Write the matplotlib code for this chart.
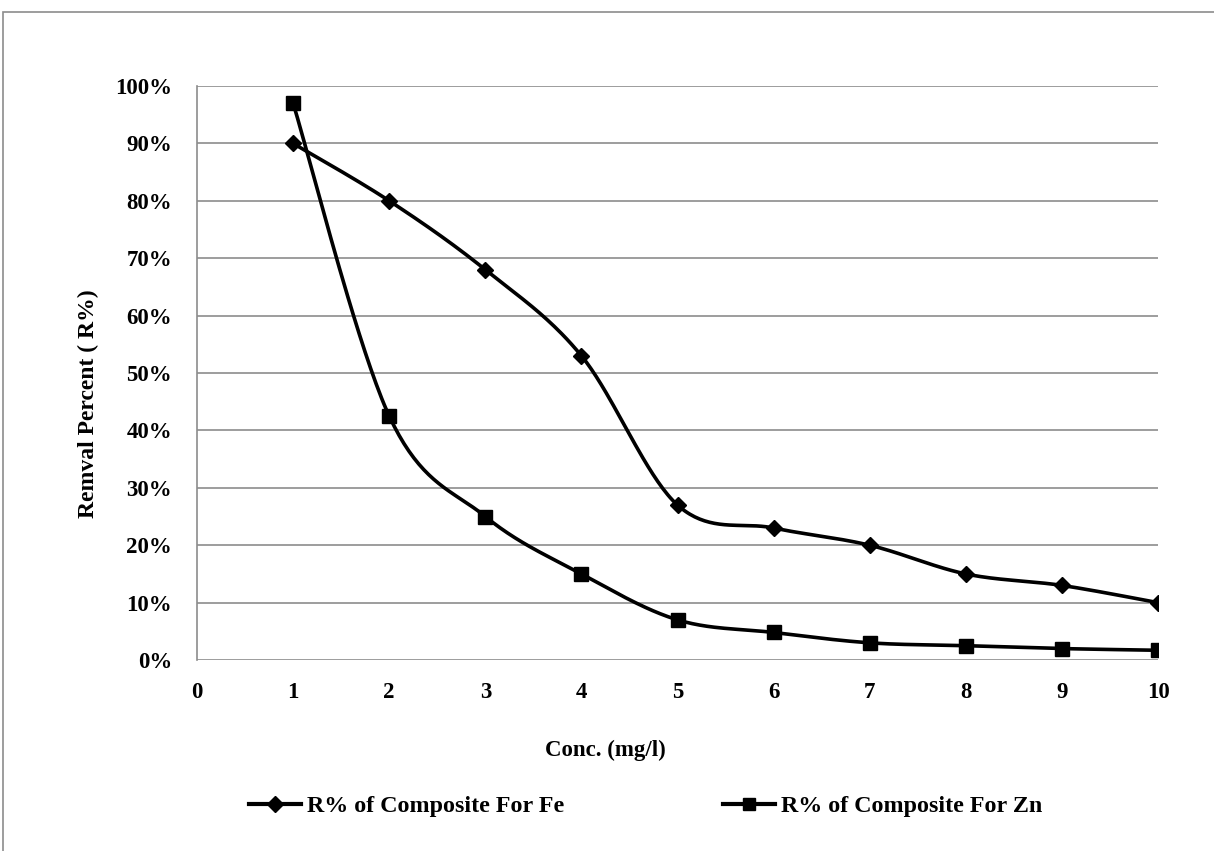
import numpy as np
import matplotlib
matplotlib.use("Agg")
from matplotlib import pyplot as plt
from matplotlib.patches import Rectangle
from matplotlib.ticker import FuncFormatter

conc = [1, 2, 3, 4, 5, 6, 7, 8, 9, 10]
fe_removal = [90, 80, 68, 53, 27, 23, 20, 15, 13, 10]
zn_removal = [97, 42.5, 25, 15, 7, 4.8, 3, 2.5, 2, 1.7]
fe_label = "R% of Composite For Fe"
zn_label = "R% of Composite For Zn"


# smoothed line through the points (cardinal spline drawn as cubic beziers)
def smooth(xs, ys, steps=40):
    p = np.column_stack([xs, ys]).astype(float)
    p = np.vstack([p[0], p, p[-1]])
    out = []
    t = np.linspace(0, 1, steps)[:, None]
    for i in range(1, len(p) - 2):
        a = p[i]
        d = p[i + 1]
        b = a + (p[i + 1] - p[i - 1]) / 6
        c = d - (p[i + 2] - p[i]) / 6
        seg = (1 - t) ** 3 * a + 3 * (1 - t) ** 2 * t * b + 3 * (1 - t) * t ** 2 * c + t ** 3 * d
        out.append(seg if i == 1 else seg[1:])
    out = np.vstack(out)
    return out[:, 0], out[:, 1]


plt.rcParams['font.family'] = ['Liberation Serif', 'DejaVu Serif']
plt.rcParams['font.weight'] = 'bold'
fs = 16.5

fig = plt.figure(figsize=(12.14, 8.51), dpi=100)
ax = fig.add_axes([0.1623, 0.2244, 0.7916, 0.6745])

# outer chart frame
fig.patches.append(Rectangle((3 / 1214, -0.05), 1.1, 1 - 12 / 851 + 0.05,
                             transform=fig.transFigure, fill=False,
                             edgecolor='#8c8c8c', linewidth=1.2))

lw = 2.6
sx, sy = smooth(conc, fe_removal)
ax.plot(sx, sy, color='black', linewidth=lw, solid_capstyle='round', zorder=3)
ax.plot(conc, fe_removal, linestyle='none', marker='D', markersize=8.5,
        color='black', zorder=4)
sx, sy = smooth(conc, zn_removal)
ax.plot(sx, sy, color='black', linewidth=lw, solid_capstyle='round', zorder=3)
ax.plot(conc, zn_removal, linestyle='none', marker='s', markersize=9.5,
        color='black', zorder=4)

ax.set_xlim(0, 10)
ax.set_ylim(0, 100)
ax.set_xticks(range(0, 11))
ax.set_yticks(range(0, 101, 10))
ax.yaxis.set_major_formatter(FuncFormatter(lambda v, _: f"{int(v)}%"))
ax.tick_params(length=0, labelsize=fs)
ax.tick_params(axis='y', pad=18)
ax.tick_params(axis='x', pad=16)
ax.grid(axis='y', color='#8c8c8c', linewidth=1.2)
ax.set_axisbelow(True)
for side in ['top', 'right', 'bottom']:
    ax.spines[side].set_visible(False)
ax.spines['left'].set_color('#8c8c8c')
ax.spines['left'].set_linewidth(1.2)

fig.text(605 / 1214, 1 - 750 / 851, "Conc. (mg/l)", fontsize=fs, fontweight='bold',
         ha='center', va='center')
fig.text(88 / 1214, 1 - 404 / 851, "Remval Percent ( R%)", fontsize=17, fontweight='bold',
         ha='center', va='center', rotation=90)

handles = [
    plt.Line2D([], [], color='black', linewidth=3, marker='D', markersize=8),
    plt.Line2D([], [], color='black', linewidth=3, marker='s', markersize=8.5),
]
fig.legend(handles, [fe_label, zn_label], loc='center', bbox_to_anchor=(646 / 1214, 1 - 806 / 851),
           ncol=2, frameon=False, fontsize=17.3, handlelength=2.17, handletextpad=0.25,
           columnspacing=6.6, borderpad=0, borderaxespad=0)

fig.savefig("out.png", dpi=100)
